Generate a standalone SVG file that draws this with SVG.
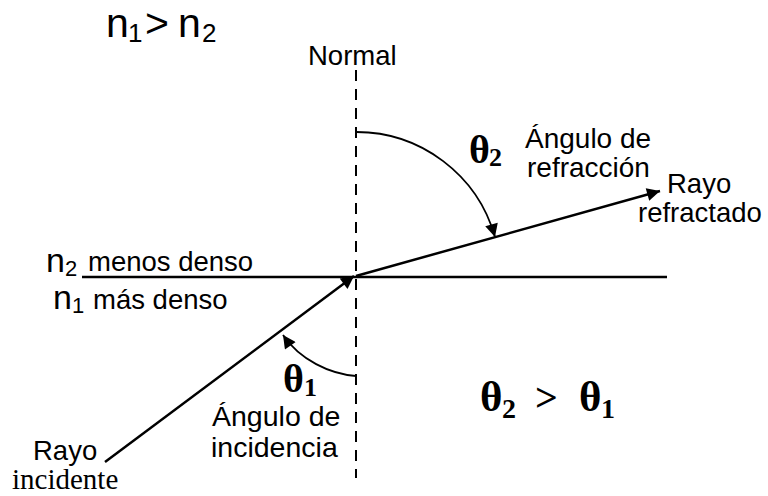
<svg xmlns="http://www.w3.org/2000/svg" width="768" height="496" viewBox="0 0 768 496">
<style>
.s{font-family:"Liberation Sans",Arial,Helvetica,sans-serif;fill:#000}
.t{font-family:"Liberation Serif","Times New Roman",serif;fill:#000}
.b{font-weight:bold}
.ln{stroke:#000;fill:none}
</style>
<defs>
<marker id="ah" viewBox="0 0 10 10" refX="10" refY="5" markerUnits="userSpaceOnUse" markerWidth="17" markerHeight="13" orient="auto">
<path d="M0,0 L10,5 L0,10 z" fill="#000"/>
</marker>
</defs>
<rect width="768" height="496" fill="#fff"/>
<g id="connectors">
<line id="normal" class="ln" x1="356" y1="70" x2="356" y2="478" stroke-width="2" stroke-dasharray="11 8"/>
<line id="interface" class="ln" x1="82" y1="277" x2="667" y2="277" stroke-width="2.5"/>
<line id="incident-ray" class="ln" x1="105" y1="462" x2="354" y2="276" stroke-width="2.5" marker-end="url(#ah)"/>
<line id="refracted-ray" class="ln" x1="356" y1="276" x2="660" y2="191" stroke-width="2.5" marker-end="url(#ah)"/>
<path id="arc-theta2" class="ln" d="M356,132 A144,144 0 0 1 495,237" stroke-width="1.8" marker-end="url(#ah)"/>
<path id="arc-theta1" class="ln" d="M356,376 C330,374 300,360 283,335" stroke-width="1.8" marker-end="url(#ah)"/>
</g>
<g id="title">
<text class="s" x="106" y="37" font-size="41">n</text>
<text class="s" x="128" y="42" font-size="26">1</text>
<text class="s" x="145" y="37" font-size="41">&gt;</text>
<text class="s" x="178" y="37" font-size="41">n</text>
<text class="s" x="202" y="42" font-size="26">2</text>
</g>
<g id="label-normal"><text class="s" x="308" y="65" font-size="27.5">Normal</text></g>
<g id="label-n2">
<text class="s" x="46" y="272" font-size="34">n</text>
<text class="s" x="65" y="276" font-size="22">2</text>
<text class="s" x="88" y="271" font-size="27.5">menos denso</text>
</g>
<g id="label-n1">
<text class="s" x="53" y="309" font-size="34">n</text>
<text class="s" x="72" y="313" font-size="22">1</text>
<text class="s" x="93" y="309" font-size="27.5">más denso</text>
</g>
<g id="label-theta2">
<text class="t b" x="469" y="163" font-size="40">θ</text>
<text class="t b" x="489" y="166" font-size="26">2</text>
</g>
<g id="label-refraccion">
<text class="s" x="525" y="148" font-size="28">Ángulo de</text>
<text class="s" x="527" y="177" font-size="28">refracción</text>
</g>
<g id="label-rayo-refractado">
<text class="s" x="667" y="193" font-size="27.5">Rayo</text>
<text class="s" x="638" y="222" font-size="27.5">refractado</text>
</g>
<g id="label-theta1">
<text class="t b" x="283" y="392" font-size="40">θ</text>
<text class="t b" x="304" y="396" font-size="26">1</text>
</g>
<g id="label-incidencia">
<text class="s" x="212" y="426" font-size="28.5">Ángulo de</text>
<text class="s" x="211" y="457" font-size="28.5">incidencia</text>
</g>
<g id="label-rayo-incidente">
<text class="s" x="33" y="460" font-size="27.5">Rayo</text>
<text class="t" x="12" y="489" font-size="29">incidente</text>
</g>
<g id="relation">
<text class="t b" x="480" y="411" font-size="43">θ</text>
<text class="t b" x="502" y="418" font-size="28">2</text>
<text class="t b" x="535" y="411" font-size="40">&gt;</text>
<text class="t b" x="579" y="411" font-size="43">θ</text>
<text class="t b" x="601" y="418" font-size="28">1</text>
</g>
</svg>
